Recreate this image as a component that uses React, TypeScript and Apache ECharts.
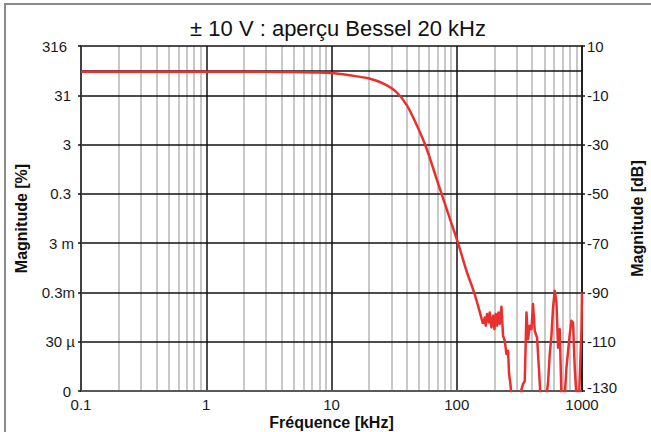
import React, { useEffect, useRef } from "react";
import * as echarts from "echarts";

// ---- data ----
const TITLE = "± 10 V : aperçu Bessel 20 kHz";
const X_NAME = "Fréquence [kHz]";
const Y_LEFT_NAME = "Magnitude [%]";
const Y_RIGHT_NAME = "Magnitude [dB]";

const FREQ_TICKS = [0.1, 1, 10, 100, 1000];
const FREQ_TICK_LABELS = ["0.1", "1", "10", "100", "1000"];

const DB_TICKS = [-130, -110, -90, -70, -50, -30, -10, 10];
const PCT_TICK_LABELS = ["0", "30 µ", "0.3m", "3 m", "0.3", "3", "31", "316"];
const DB_MIN = -130;
const DB_MAX = 10;
const REF_DB = 0;

// Bessel roll-off (frequency kHz, magnitude dB)
const curveFreq = [0.1, 0.3, 1, 3, 5, 7, 10, 14, 20, 26, 33, 40, 48, 57.5, 69, 83, 102, 119.5, 139, 162];
const curveDb = [-0.45, -0.45, -0.45, -0.5, -0.6, -0.75, -0.95, -1.9, -3.2, -5.3, -8.7, -14.1, -22.2, -31.7, -43.9, -56.1, -69.7, -81.2, -90.7, -102.8];

// noise floor (frequency kHz, magnitude dB)
const noiseFreq = [162, 167.3, 170.4, 174.6, 180.1, 183.4, 189.2, 195, 200, 204.8, 209.8, 215.3, 220.4, 227.5, 234.3, 241.7, 249.3, 256.9, 261.7, 268.4, 273.3, 300, 322, 328.6, 338.2, 349.1, 360.2, 370.8, 382.8, 394.8, 406.6, 419.6, 437.7, 454.1, 465.8, 490, 520.3, 535.8, 552.6, 570.2, 587.4, 606, 625.1, 644.2, 664, 685.4, 705, 728, 751.4, 798.6, 823.6, 848.4, 875, 902.8, 925, 947.3, 990, 1000];
const noiseDb = [-102.8, -100.2, -103.5, -98.8, -102.2, -98.1, -104.2, -99.5, -104.9, -98.8, -103.5, -98.1, -102.8, -95.8, -107.6, -109.6, -115, -113.7, -123.2, -127.2, -132, -145, -140, -129.3, -127.2, -125.9, -98.1, -109, -103.5, -104.9, -94.7, -105.6, -108.3, -121.8, -132, -145, -132, -126.6, -115, -107.6, -96.1, -89.3, -94.1, -112.4, -104.9, -132, -145, -132, -120.5, -106.9, -101.5, -102.2, -120.5, -132, -145, -132, -105.6, -90];

const PCT_PAD: Record<string, number> = { "316": 8, "31": 4, "3": 4, "0.3": 4, "3 m": 1, "0.3m": 0, "30 µ": 0, "0": 4 };

const FONT = "Liberation Sans, Arial, sans-serif";
const TICK_FS = 15;
const NAME_FS = 16;

export default function App() {
  const ref = useRef<HTMLDivElement>(null);
  useEffect(() => {
    if (!ref.current) return;
    const chart = echarts.init(ref.current, undefined, { renderer: "svg" });

    const minorFreqs: number[] = [];
    for (let d = 0; d < FREQ_TICKS.length - 1; d++) {
      for (let k = 2; k <= 9; k++) minorFreqs.push(FREQ_TICKS[d] * k);
    }
    const off = (db: number) => db - DB_MIN;

    const tickText = { fontSize: TICK_FS, fontFamily: FONT, color: "#1a1a1a" };
    const rich: Record<string, any> = {};
    [0, 1, 4, 8].forEach((p) => {
      rich["p" + p] = { ...tickText, padding: [0, p, 0, 0] };
    });
    const richRight: Record<string, any> = {
      lo: { ...tickText, padding: [0, 0, 7, 0] },
    };

    const nameStyle = { fontSize: NAME_FS, fontWeight: "bold", color: "#111", fontFamily: FONT };

    const option: any = {
      animation: false,
      textStyle: { fontFamily: FONT },
      title: {
        text: TITLE,
        left: 333,
        textAlign: "center",
        top: 12,
        textStyle: { fontSize: 22, fontWeight: "normal", color: "#111", fontFamily: FONT },
      },
      graphic: [
        {
          type: "rect",
          shape: { x: 5, y: 4, width: 700, height: 500 },
          style: { fill: "none", stroke: "#8a8a8a", lineWidth: 2 },
          silent: true,
          z: -10,
        },
      ],
      grid: { left: 81, right: 69, top: 46, bottom: 41, containLabel: false, outerBoundsMode: "none" },
      xAxis: {
        type: "log",
        logBase: 10,
        min: FREQ_TICKS[0],
        max: FREQ_TICKS[FREQ_TICKS.length - 1],
        z: 2,
        name: X_NAME,
        nameLocation: "middle",
        nameGap: 23,
        nameMoveOverlap: false,
        nameTextStyle: nameStyle,
        axisLine: { show: true, lineStyle: { color: "#5a5a5a", width: 2 } },
        axisTick: { show: false },
        axisLabel: {
          ...tickText,
          margin: 6,
          formatter: (v: number) => {
            let best = 0;
            FREQ_TICKS.forEach((t, i) => {
              if (Math.abs(Math.log10(t) - Math.log10(v)) < Math.abs(Math.log10(FREQ_TICKS[best]) - Math.log10(v))) best = i;
            });
            return FREQ_TICK_LABELS[best];
          },
        },
        splitLine: { show: true, lineStyle: { color: "#111", width: 1.5 } },
      },
      yAxis: [
        {
          type: "value",
          min: 0,
          max: off(DB_MAX),
          interval: 20,
          position: "left",
          z: 2,
          name: Y_LEFT_NAME,
          nameLocation: "middle",
          nameGap: 52,
          nameMoveOverlap: false,
          nameTextStyle: nameStyle,
          axisLine: { show: true, lineStyle: { color: "#404040", width: 2 } },
          axisTick: { show: true, length: 3, lineStyle: { color: "#111", width: 1.5 } },
          axisLabel: {
            ...tickText,
            margin: 6,
            rich,
            formatter: (v: number) => {
              const idx = DB_TICKS.indexOf(Math.round(v + DB_MIN));
              if (idx < 0) return "";
              const lab = PCT_TICK_LABELS[idx];
              return `{p${PCT_PAD[lab] ?? 0}|${lab}}`;
            },
          },
          splitLine: { show: true, lineStyle: { color: "#111", width: 1.5 } },
        },
        {
          type: "value",
          min: 0,
          max: off(DB_MAX),
          interval: 20,
          position: "right",
          z: 2,
          name: Y_RIGHT_NAME,
          nameLocation: "middle",
          nameGap: 47,
          nameRotate: 90,
          nameMoveOverlap: false,
          nameTextStyle: nameStyle,
          axisLine: { show: true, lineStyle: { color: "#222", width: 2 } },
          axisTick: { show: true, length: 3, lineStyle: { color: "#111", width: 1.5 } },
          axisLabel: {
            ...tickText,
            margin: 5,
            rich: richRight,
            formatter: (v: number) => {
              const db = Math.round(v + DB_MIN);
              if (DB_TICKS.indexOf(db) < 0) return "";
              return db === DB_MIN ? `{lo|${db}}` : String(db);
            },
          },
          splitLine: { show: false },
        },
      ],
      series: [
        {
          type: "line",
          name: "minor",
          data: [],
          silent: true,
          markLine: {
            silent: true,
            z: 1,
            symbol: "none",
            label: { show: false },
            lineStyle: { color: "#c8c8c8", width: 2, type: "solid" },
            data: minorFreqs.map((f) => ({ xAxis: f })),
          },
        },
        {
          type: "line",
          name: "curve",
          data: curveFreq.map((f, i) => [f, off(curveDb[i])]),
          showSymbol: false,
          symbol: "none",
          smooth: 0.3,
          clip: true,
          z: 5,
          lineStyle: { color: "#e8302e", width: 2.5 },
          markLine: {
            silent: true,
            z: 3,
            symbol: "none",
            label: { show: false },
            lineStyle: { color: "#111", width: 1.5, type: "solid" },
            data: [{ yAxis: off(REF_DB) }],
          },
        },
        {
          type: "line",
          name: "noise",
          data: noiseFreq.map((f, i) => [f, off(noiseDb[i])]),
          showSymbol: false,
          symbol: "none",
          clip: true,
          z: 5,
          lineStyle: { color: "#e8302e", width: 2.5, join: "round" },
        },
      ],
    };
    chart.setOption(option);
    return () => chart.dispose();
  }, []);
  return (
    <div
      ref={ref}
      style={{ position: "fixed", left: 0, top: 0, width: 651, height: 432, background: "#fff" }}
    />
  );
}
